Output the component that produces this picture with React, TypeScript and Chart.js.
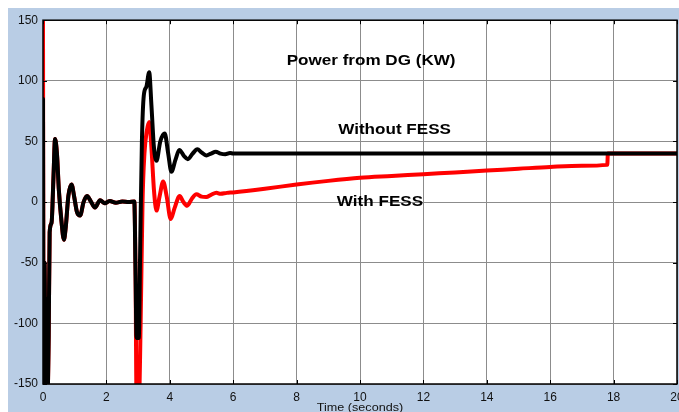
import React, { useEffect, useRef } from "react";
import { Chart, registerables } from "chart.js";

Chart.register(...registerables);

// Without FESS (black)
const tWithout = [0, 0.02, 0.05, 0.08, 0.11, 0.14, 0.18, 0.21, 0.27, 0.33, 0.38, 0.44, 0.5, 0.58, 0.66, 0.72, 0.8, 0.9, 0.98, 1.07, 1.17, 1.28, 1.39, 1.5, 1.64, 1.8, 1.95, 2.1, 2.3, 2.5, 2.7, 2.88, 2.92, 2.95, 3.02, 3.07, 3.12, 3.18, 3.26, 3.35, 3.42, 3.5, 3.58, 3.7, 3.84, 3.95, 4.05, 4.18, 4.3, 4.45, 4.57, 4.72, 4.87, 5.0, 5.15, 5.3, 5.45, 5.6, 5.75, 5.9, 6.0, 20];
const pWithout = [85, -160, -50, -160, -80, -160, -110, -25, -17, 20, 52, 40, 10, -15, -31, -20, 5, 14.5, 5, -8, -11, 0, 5, 1, -4.5, 1.5, -1, 1, -0.5, 0.5, 0, 0.5, -60, -112, -112, -30, 50, 88, 95, 107, 80, 45, 34, 50, 56.5, 40, 25, 35, 43, 38, 35.4, 40, 43.5, 41, 38.5, 40, 41.5, 40, 39.5, 40.5, 40, 40];

// With FESS (red)
const tWith = [0, 0.02, 0.05, 0.08, 0.11, 0.14, 0.18, 0.21, 0.27, 0.33, 0.38, 0.44, 0.5, 0.58, 0.66, 0.72, 0.8, 0.9, 0.98, 1.07, 1.17, 1.28, 1.39, 1.5, 1.64, 1.8, 1.95, 2.1, 2.3, 2.5, 2.7, 2.88, 2.92, 2.95, 3.03, 3.08, 3.14, 3.2, 3.27, 3.35, 3.42, 3.5, 3.58, 3.68, 3.79, 3.9, 4.03, 4.15, 4.31, 4.43, 4.55, 4.7, 4.84, 5.0, 5.15, 5.3, 5.47, 5.6, 5.8, 6, 7, 8, 9, 10, 11, 12, 13, 14, 15, 16, 17, 17.8, 17.82, 20];
const pWith = [150, -160, -50, -160, -80, -160, -110, -25, -17, 20, 52, 40, 10, -15, -31, -20, 5, 14.5, 5, -8, -11, 0, 5, 1, -4.5, 1.5, -1, 1, -0.5, 0.5, 0, 0.5, -60, -160, -160, -100, 0, 40, 58, 66, 45, 10, -7, 5, 17, 5, -14, -5, 5, 0, -3, 3, 6.4, 4.5, 4.2, 6, 7.7, 6.8, 7.6, 8, 11, 14.5, 17.5, 20, 21.5, 23, 24.5, 26, 27.5, 29, 30, 30.7, 40, 40];

const xTicks = [0, 2, 4, 6, 8, 10, 12, 14, 16, 18, 20];
const yTicks = [-150, -100, -50, 0, 50, 100, 150];

const annTexts = ["Power from DG (KW)", "Without FESS", "With FESS"];
const annT = [10.35, 11.09, 10.63];
const annP = [116, 59, 0];

const xTitle = "Time (seconds)";

const FONT = "'Liberation Sans', Arial, sans-serif";

const framePlugin = {
  id: "frame",
  beforeDraw(chart: any) {
    const { ctx, chartArea: a, width, height } = chart;
    ctx.save();
    ctx.fillStyle = "#b9cde5";
    ctx.fillRect(0, 0, width, height);
    ctx.fillStyle = "#ffffff";
    ctx.fillRect(a.left, a.top, a.right - a.left, a.bottom - a.top);
    ctx.restore();
  },
  afterDraw(chart: any) {
    const { ctx, chartArea: a, scales } = chart;
    const xs = scales.x;
    const ys = scales.y;
    ctx.save();
    ctx.strokeStyle = "#000";
    ctx.lineWidth = 1.5;
    ctx.strokeRect(a.left, a.top, a.right - a.left, a.bottom - a.top);
    ctx.lineWidth = 1;
    const tl = 4;
    ctx.beginPath();
    xTicks.forEach((v) => {
      const px = Math.round(xs.getPixelForValue(v)) + 0.5;
      ctx.moveTo(px, a.bottom);
      ctx.lineTo(px, a.bottom - tl);
      ctx.moveTo(px, a.top);
      ctx.lineTo(px, a.top + tl);
    });
    yTicks.forEach((v) => {
      const py = Math.round(ys.getPixelForValue(v)) + 0.5;
      ctx.moveTo(a.left, py);
      ctx.lineTo(a.left + tl, py);
      ctx.moveTo(a.right, py);
      ctx.lineTo(a.right - tl, py);
    });
    ctx.stroke();

    // annotations
    ctx.fillStyle = "#000";
    ctx.textAlign = "center";
    ctx.textBaseline = "middle";
    ctx.font = "bold 14px " + FONT;
    annTexts.forEach((txt, i) => {
      const px = xs.getPixelForValue(annT[i]);
      const py = ys.getPixelForValue(annP[i]);
      ctx.save();
      ctx.translate(px, py);
      ctx.scale(1.22, 1);
      ctx.fillText(txt, 0, 0);
      ctx.restore();
    });

    // x title
    ctx.font = "10.5px " + FONT;
    ctx.save();
    ctx.translate((a.left + a.right) / 2, a.bottom + 24);
    ctx.scale(1.2, 1);
    ctx.fillStyle = "#111";
    ctx.fillText(xTitle, 0, 0);
    ctx.restore();
    ctx.restore();
  },
};

export default function App() {
  const ref = useRef<HTMLCanvasElement | null>(null);
  useEffect(() => {
    document.documentElement.style.overflow = "hidden";
    document.body.style.overflow = "hidden";
    const canvas = ref.current!;
    const chart = new Chart(canvas, {
      type: "line",
      data: {
        datasets: [
          {
            label: "Without FESS",
            data: tWithout.map((t, i) => ({ x: t, y: pWithout[i] })),
            borderColor: "#000000",
            borderWidth: 4,
            pointRadius: 0,
            cubicInterpolationMode: "monotone",
            borderJoinStyle: "round",
            borderCapStyle: "round",
            clip: 0,
            order: 0,
          },
          {
            label: "With FESS",
            data: tWith.map((t, i) => ({ x: t, y: pWith[i] })),
            borderColor: "#ff0000",
            borderWidth: 4,
            pointRadius: 0,
            cubicInterpolationMode: "monotone",
            borderJoinStyle: "round",
            borderCapStyle: "round",
            clip: 0,
            order: 1,
          },
        ],
      },
      options: {
        animation: false,
        responsive: false,
        devicePixelRatio: 1,
        layout: { padding: { top: 7, right: 21, bottom: 0, left: 0 } },
        plugins: { legend: { display: false }, tooltip: { enabled: false } },
        scales: {
          x: {
            type: "linear",
            min: 0,
            max: 20,
            afterBuildTicks: (s: any) => {
              s.ticks = xTicks.map((v) => ({ value: v }));
            },
            afterFit: (s: any) => {
              s.height = 28;
            },
            ticks: {
              color: "#111",
              padding: 6,
              maxRotation: 0,
              font: { family: FONT, size: 12 },
            },
            grid: { color: "#8c8c8c", lineWidth: 1, drawTicks: false },
            border: { display: false },
          },
          y: {
            type: "linear",
            min: -150,
            max: 150,
            afterBuildTicks: (s: any) => {
              s.ticks = yTicks.map((v) => ({ value: v }));
            },
            afterFit: (s: any) => {
              s.width = 35;
            },
            ticks: {
              color: "#111",
              padding: 5,
              font: { family: FONT, size: 12 },
            },
            grid: { color: "#8c8c8c", lineWidth: 1, drawTicks: false },
            border: { display: false },
          },
        },
      },
      plugins: [framePlugin],
    } as any);
    return () => chart.destroy();
  }, []);
  return (
    <div style={{ position: "fixed", left: 8, top: 8, width: 690, height: 404 }}>
      <canvas ref={ref} width={690} height={404} style={{ display: "block" }} />
    </div>
  );
}
